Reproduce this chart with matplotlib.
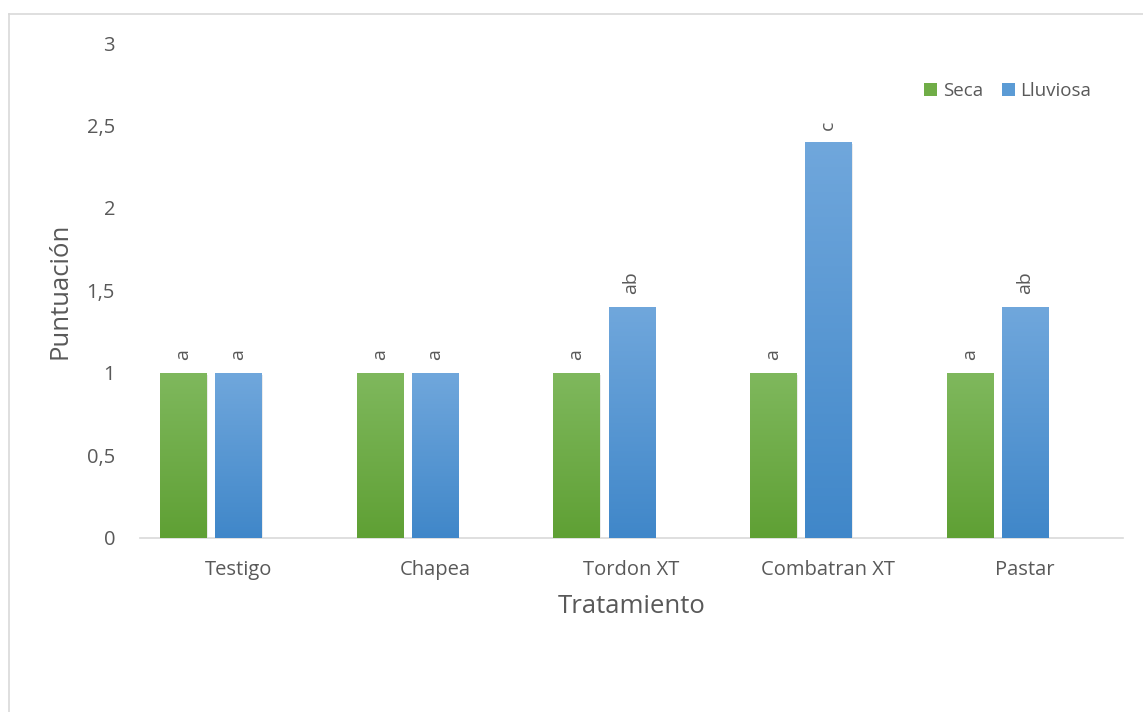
import matplotlib
matplotlib.use("Agg")
import matplotlib.pyplot as plt
import numpy as np
from matplotlib.patches import Rectangle
from matplotlib.lines import Line2D
from matplotlib.colors import LinearSegmentedColormap

categories = ["Testigo", "Chapea", "Tordon XT", "Combatran XT", "Pastar"]
seca = [1, 1, 1, 1, 1]
lluviosa = [1, 1, 1.4, 2.4, 1.4]
seca_letters = ["a", "a", "a", "a", "a"]
lluviosa_letters = ["a", "a", "ab", "c", "ab"]
yticks = [0, 0.5, 1, 1.5, 2, 2.5, 3]
ytick_labels = ["0", "0,5", "1", "1,5", "2", "2,5", "3"]

plt.rcParams['font.family'] = ['Open Sans', 'DejaVu Sans']
txt = "#595959"

fig = plt.figure(figsize=(11.43, 7.12), dpi=100)
ax = fig.add_axes([0.1225, 0.2444, 0.86, 0.6952])

x = np.arange(len(categories))
w = 0.234
step = 0.28

green_cmap = LinearSegmentedColormap.from_list("g", ["#5fa034", "#7fb85d"])
blue_cmap = LinearSegmentedColormap.from_list("b", ["#4087c9", "#70a7dc"])

def grad_bars(xs, vals, cmap, color):
    bars = ax.bar(xs, vals, w, color=color, zorder=2)
    grad = np.linspace(0, 1, 256).reshape(-1, 1)
    for b in bars:
        x0, y0 = b.get_x(), b.get_y()
        bw, bh = b.get_width(), b.get_height()
        sh = Rectangle((x0 + 0.008, y0), bw, bh - 0.01, facecolor="#000000", alpha=0.08,
                       edgecolor="none", zorder=1)
        ax.add_patch(sh)
        im = ax.imshow(grad, extent=[x0, x0 + bw, y0, y0 + bh], origin="lower",
                       cmap=cmap, aspect="auto", zorder=3)
        im.set_clip_path(b)
    return bars

b1 = grad_bars(x - step, seca, green_cmap, "#70ad47")
b2 = grad_bars(x, lluviosa, blue_cmap, "#5b9bd5")

for bars, letters in ((b1, seca_letters), (b2, lluviosa_letters)):
    for b, l in zip(bars, letters):
        ax.annotate(l, (b.get_x() + b.get_width() / 2, b.get_height()),
                    xytext=(0, 9), textcoords="offset points", rotation=90,
                    ha="center", va="bottom", fontsize=14, color=txt, zorder=4)

ax.set_xlim(-0.5, len(categories) - 0.5)
ax.set_ylim(0, 3)
ax.set_yticks(yticks)
ax.set_yticklabels(ytick_labels)
ax.set_xticks(x)
ax.set_xticklabels(categories)
ax.tick_params(axis="both", length=0, labelsize=14.5, colors=txt)
ax.tick_params(axis="y", pad=18)
ax.tick_params(axis="x", pad=16)
for s in ["top", "right", "left"]:
    ax.spines[s].set_visible(False)
ax.spines["bottom"].set_color("#d9d9d9")
ax.spines["bottom"].set_linewidth(1.2)

ax.set_xlabel("Tratamiento", fontsize=18.5, color=txt, labelpad=10)
ax.set_ylabel("Puntuación", fontsize=18.5, color=txt, labelpad=10)

handles = [Rectangle((0, 0), 1, 1, facecolor="#70ad47"),
           Rectangle((0, 0), 1, 1, facecolor="#5b9bd5")]
leg = ax.legend(handles, ["Seca", "Lluviosa"], loc="upper right",
                bbox_to_anchor=(0.985, 0.955), ncol=2, frameon=False,
                fontsize=13.5, handlelength=0.7, handleheight=0.7,
                handletextpad=0.3, columnspacing=1.0)
for t in leg.get_texts():
    t.set_color(txt)

fig.add_artist(Line2D([9/1143, 9/1143], [0, 1 - 14/712], transform=fig.transFigure,
                      color="#d9d9d9", lw=1.2))
fig.add_artist(Line2D([9/1143, 1], [1 - 14/712, 1 - 14/712], transform=fig.transFigure,
                      color="#d9d9d9", lw=1.2))

fig.savefig("out.png", dpi=100)
